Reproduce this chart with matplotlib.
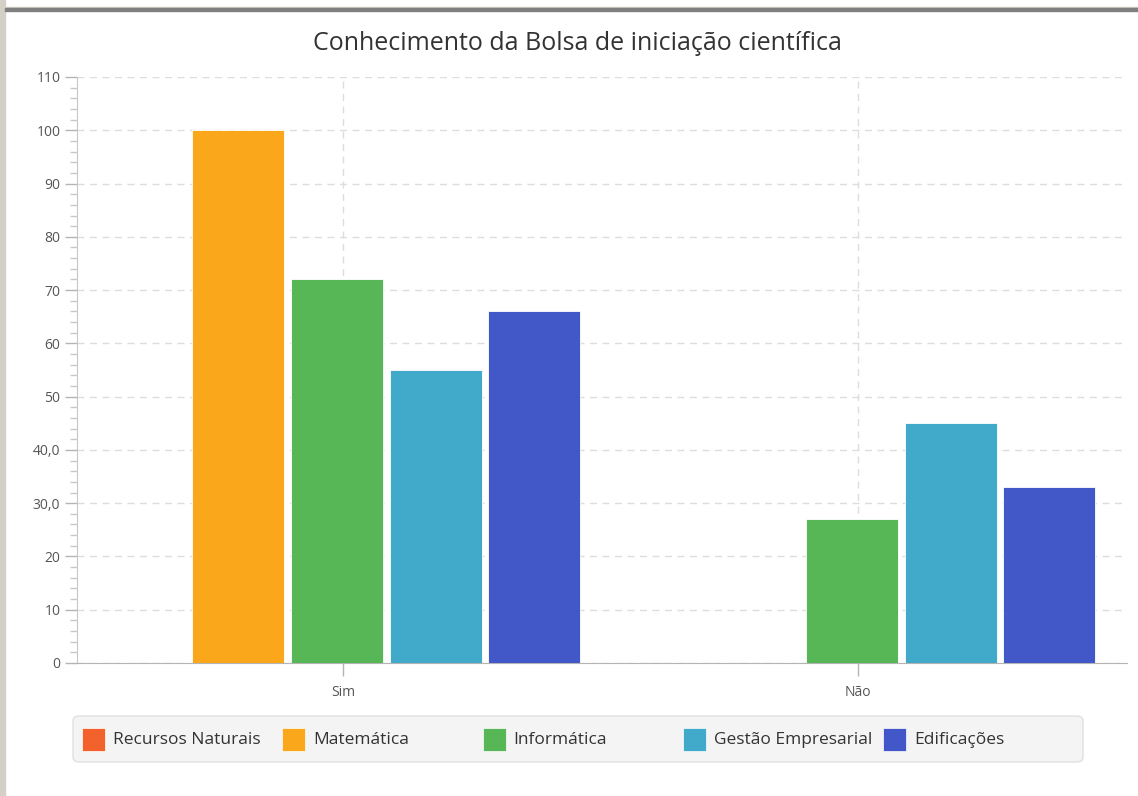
import numpy as np
import matplotlib.pyplot as plt
from matplotlib.patches import Rectangle, FancyBboxPatch

plt.rcParams['font.family'] = ['Open Sans', 'DejaVu Sans']

# ========= dados ============
categorias = ['Sim', 'Não']
cursos = ['Recursos Naturais', 'Matemática', 'Informática',
          'Gestão Empresarial', 'Edificações']
recursos = [0, 0]
matematica = [100, 0]
informatica = [72, 27]
gestao = [55, 45]
edificacoes = [66, 33]
valores = [recursos, matematica, informatica, gestao, edificacoes]
cores = ['#f3622d', '#fba71b', '#57b757', '#41a9c9', '#4258c9']

yticks = list(range(0, 111, 10))
ylabels = ['0', '10', '20', '30,0', '40,0', '50', '60', '70', '80', '90', '100', '110']

W, H = 1138, 796
fig = plt.figure(figsize=(W / 100, H / 100), dpi=100)

# moldura da janela
fig.patches.append(Rectangle((0, 0), 5 / W, 1, transform=fig.transFigure,
                             color='#d4d0c8', zorder=0))
fig.patches.append(Rectangle((5 / W, 1 - 8 / H), 1, 1.5 / H, transform=fig.transFigure,
                             color='#d4d0c8', zorder=0))
fig.patches.append(Rectangle((5 / W, 1 - 11 / H), 1, 2.5 / H, transform=fig.transFigure,
                             color='#808080', zorder=0))

# area do grafico (pixels: x 77..1127, y 77..663)
ax = fig.add_axes([77 / W, 1 - 663 / H, 1050 / W, 586 / H])

px = 515.0  # pixels por categoria
x = np.arange(len(categorias))
step = 98.7 / px
larg = 92 / px
desloc = -6 / px

for i, (nome, v, c) in enumerate(zip(cursos, valores, cores)):
    ax.bar(x + desloc + (i - 2) * step, v, width=larg, color=c,
           edgecolor='white', linewidth=0.6, label=nome, zorder=3)

ax.set_xlim((77 - 343) / px, (1127 - 343) / px)
ax.set_ylim(0, 110)

ax.set_yticks(yticks)
ax.set_yticklabels(ylabels)
ax.set_yticks(np.arange(0, 111, 2), minor=True)
ax.set_xticks(x)
ax.set_xticklabels(categorias)

ax.grid(True, which='major', color='#dddddd', linestyle=(0, (5, 4)), linewidth=1, zorder=0)
ax.set_axisbelow(True)

for s in ['top', 'right']:
    ax.spines[s].set_visible(False)
ax.spines['left'].set_color('#c8c8c8')
ax.spines['bottom'].set_color('#b4b4b4')

ax.tick_params(axis='y', which='major', length=9, width=1, color='#b4b4b4',
               labelsize=10, labelcolor='#555555', pad=3)
ax.tick_params(axis='y', which='minor', length=5, width=1, color='#c8c8c8')
ax.tick_params(axis='x', which='major', length=9, width=1, color='#b4b4b4',
               labelsize=10, labelcolor='#555555', pad=7)

fig.text(577 / W, 1 - 43 / H, 'Conhecimento da Bolsa de iniciação científica',
         ha='center', va='center', fontsize=18, color='#333333')

# legenda
leg = FancyBboxPatch((73 / W, 1 - 762 / H), 1010 / W, 46 / H,
                     boxstyle='round,pad=0,rounding_size=0.006',
                     transform=fig.transFigure, facecolor='#f4f4f4',
                     edgecolor='#e0e0e0', linewidth=1)
fig.patches.append(leg)
for i, (nome, c) in enumerate(zip(cursos, cores)):
    x0 = 82 + 200.3 * i
    fig.patches.append(Rectangle((x0 / W, 1 - 751 / H), 23 / W, 23 / H,
                                 transform=fig.transFigure, facecolor=c,
                                 edgecolor='white', linewidth=0.5))
    fig.text((x0 + 31) / W, 1 - 740 / H, nome, ha='left', va='center',
             fontsize=12.5, color='#333333')

fig.savefig('out.png', dpi=100)
